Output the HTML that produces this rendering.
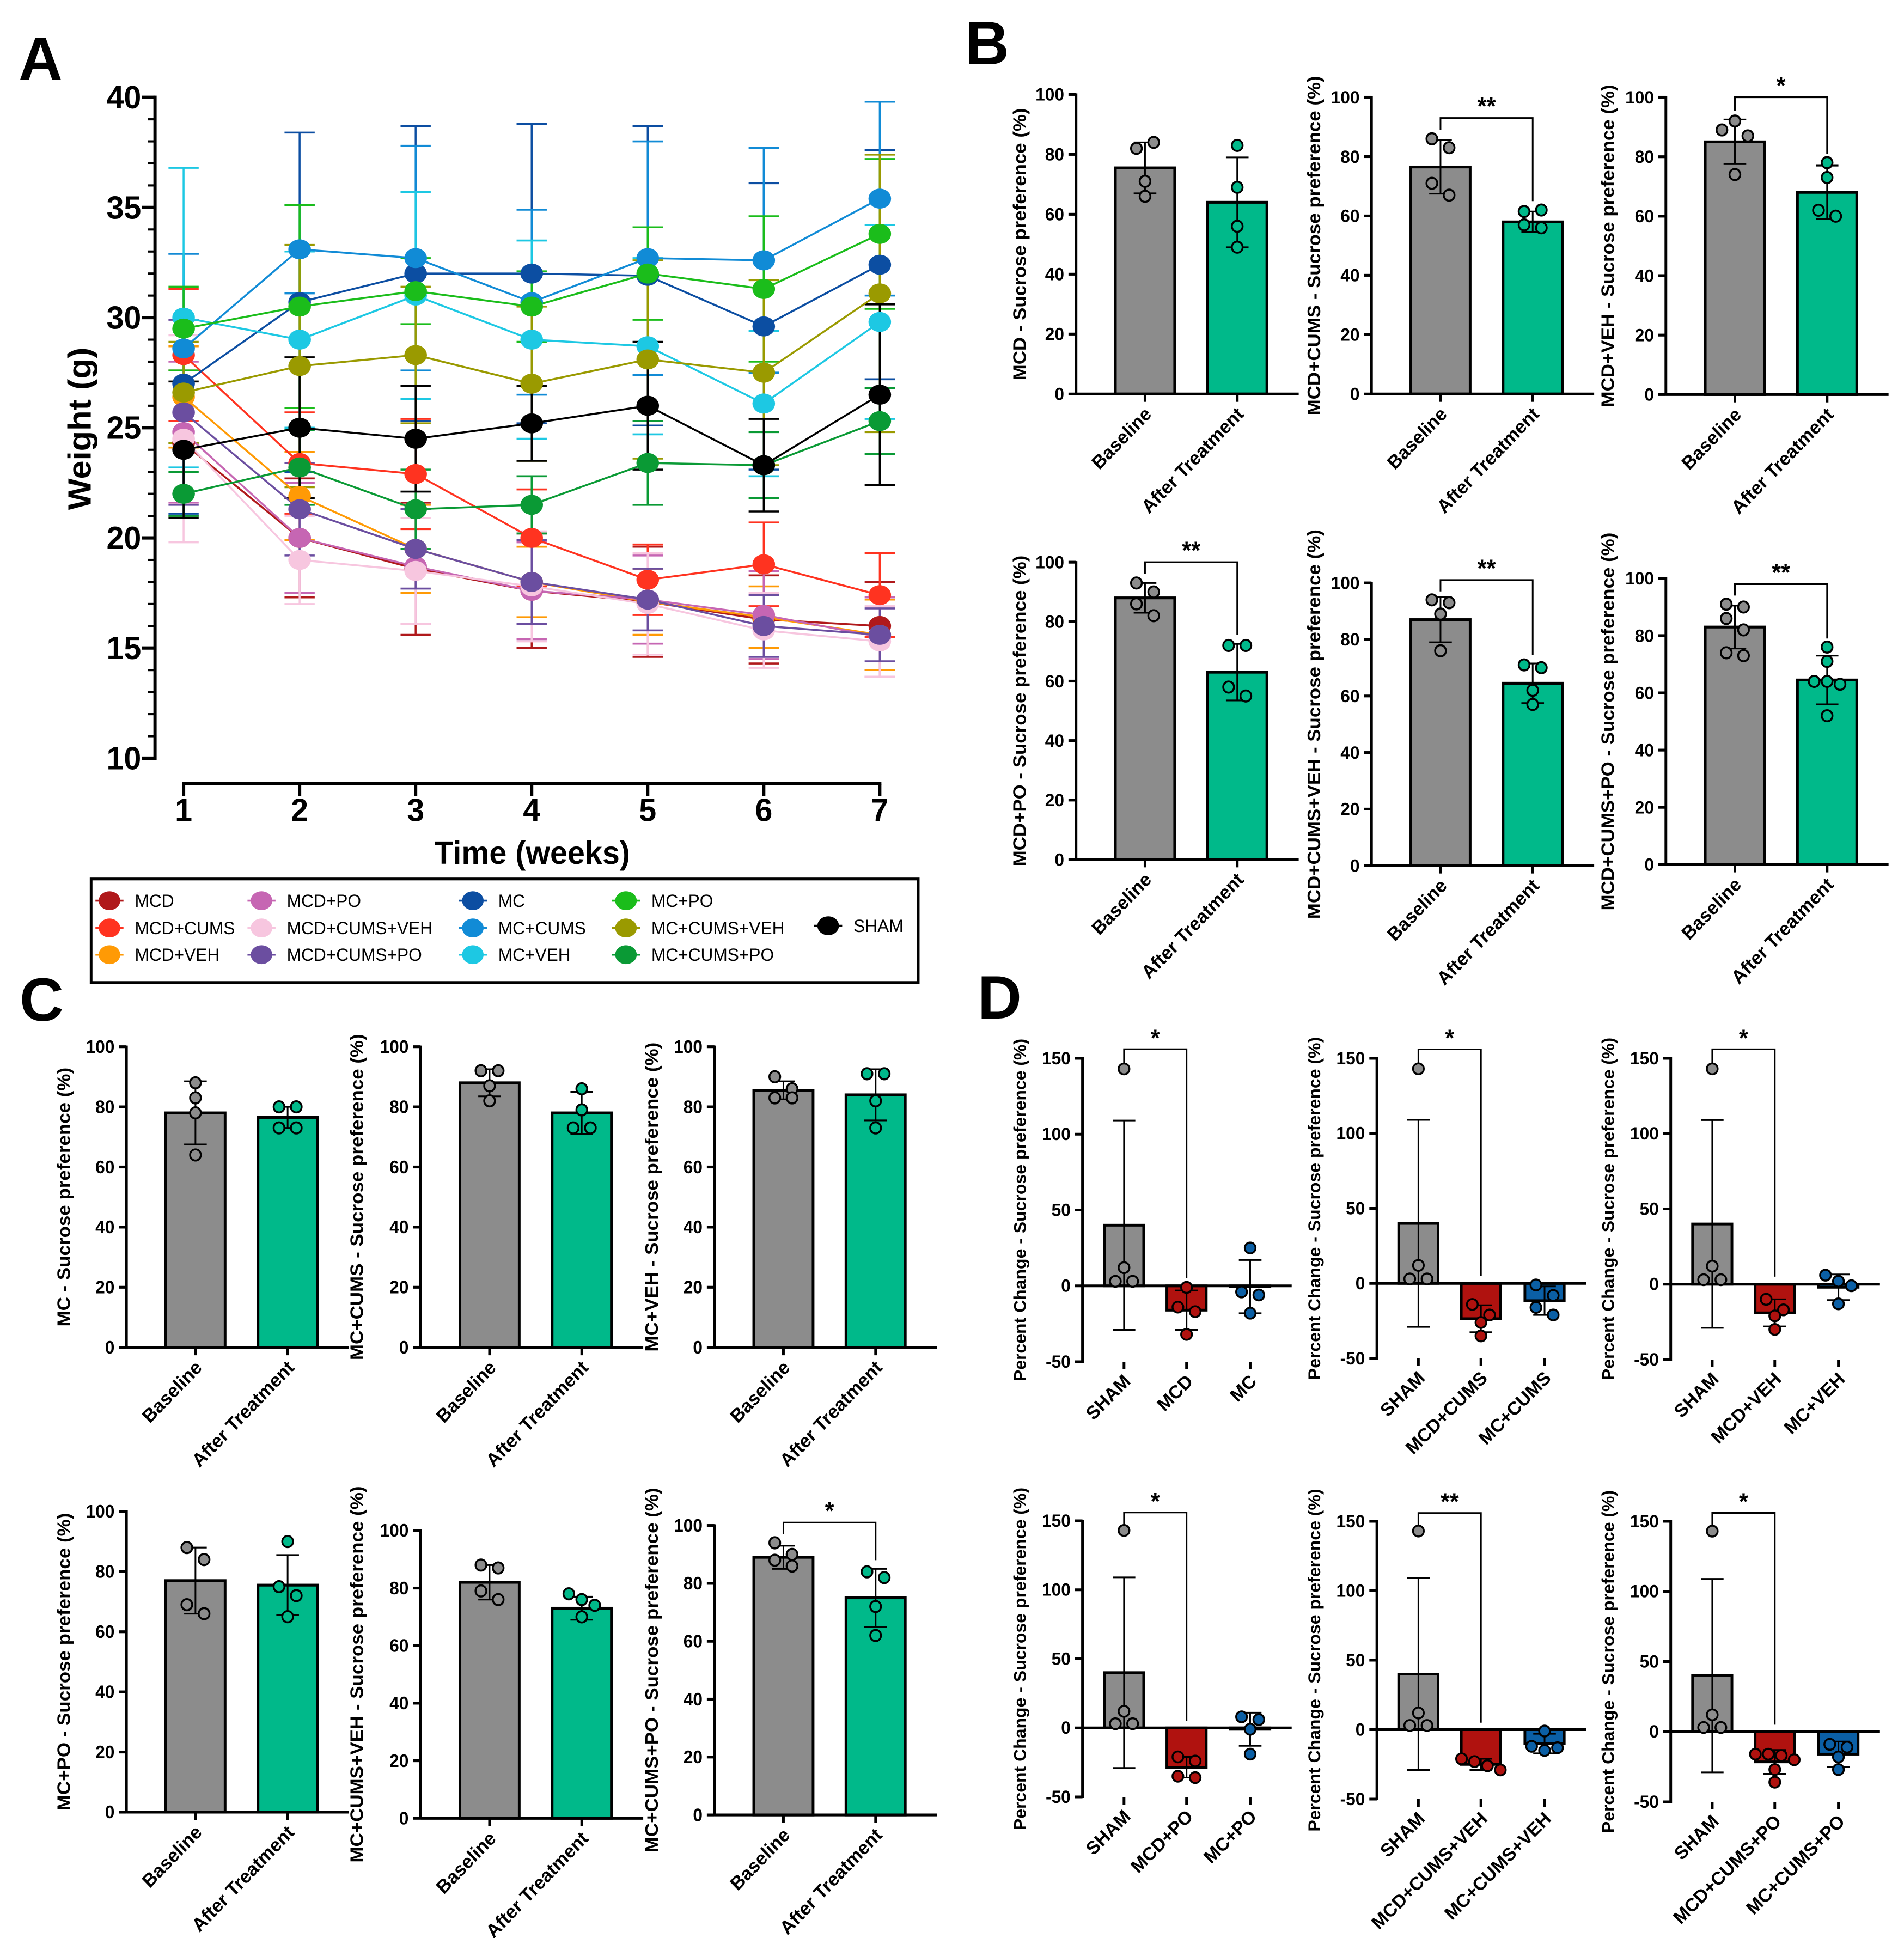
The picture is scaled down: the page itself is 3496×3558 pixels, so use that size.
<!DOCTYPE html>
<html><head><meta charset="utf-8"><title>Weight and sucrose preference figure</title>
<style>
html,body{margin:0;padding:0;background:#fff;}
svg{display:block;font-family:"Liberation Sans",Arial,sans-serif;}
</style></head>
<body>
<svg id="fig" width="3496" height="3558" viewBox="0 0 3496 3558"></svg>
<script>
// ---------- Panel A data ----------
const weeks = [1,2,3,4,5,6,7];
const groupNames = ["MCD","MCD+CUMS","MCD+VEH","MCD+PO","MCD+CUMS+VEH","MCD+CUMS+PO","MC","MC+CUMS","MC+VEH","MC+PO","MC+CUMS+VEH","MC+CUMS+PO","SHAM"];
const wMCD = [24.3,20.0,18.6,17.6,17.1,16.3,16.0];
const sdMCD = [3.3,2.7,3.0,2.6,2.5,2.0,2.0];
const wMCDCUMS = [28.3,23.4,22.9,20.0,18.1,18.8,17.4];
const sdMCDCUMS = [3.0,2.3,2.5,2.2,1.6,1.9,1.9];
const wMCDVEH = [26.4,21.9,19.5,18.0,17.1,16.4,15.6];
const sdMCDVEH = [2.3,2.0,2.0,1.6,1.5,1.4,1.6];
const wMCDPO = [24.8,20.0,18.7,17.6,17.2,16.5,15.5];
const sdMCDPO = [3.2,2.5,2.6,2.2,2.0,2.0,1.8];
const wMCDCUMSVEH = [24.5,19.0,18.5,17.8,17.0,15.8,15.3];
const sdMCDCUMSVEH = [4.7,2.0,2.4,2.5,2.3,1.7,1.6];
const wMCDCUMSPO = [25.7,21.3,19.5,18.0,17.2,16.0,15.6];
const sdMCDCUMSPO = [4.2,2.1,1.8,1.9,1.4,1.4,1.2];
const wMC = [27.0,30.7,32.0,32.0,31.9,29.6,32.4];
const sdMC = [5.9,7.7,6.7,6.8,6.8,6.5,5.2];
const wMCCUMS = [28.6,33.1,32.7,30.7,32.7,32.6,35.4];
const sdMCCUMS = [4.3,2.0,5.1,4.2,5.3,5.1,4.4];
const wMCVEH = [30.0,29.0,31.0,29.0,28.7,26.1,29.8];
const sdMCVEH = [6.8,4.0,4.7,4.5,4.0,3.3,4.4];
const wMCPO = [29.5,30.5,31.2,30.5,32.0,31.3,33.8];
const sdMCPO = [1.9,4.6,1.5,1.6,2.1,3.3,3.4];
const wMCCUMSVEH = [26.6,27.8,28.3,27.0,28.1,27.5,31.1];
const sdMCCUMSVEH = [2.3,5.5,3.1,3.5,4.5,4.2,6.3];
const wMCCUMSPO = [22.0,23.2,21.3,21.5,23.4,23.3,25.3];
const sdMCCUMSPO = [1.0,1.7,1.8,1.3,1.9,1.5,1.5];
const wSHAM = [24.0,25.0,24.5,25.2,26.0,23.3,26.5];
const sdSHAM = [3.1,3.2,2.4,1.7,2.9,2.1,4.1];
const yTicksA = [10,15,20,25,30,35,40];

// ---------- Panels B/C data ----------
const bcTitles = ["MCD","MCD+CUMS","MCD+VEH","MCD+PO","MCD+CUMS+VEH","MCD+CUMS+PO","MC","MC+CUMS","MC+VEH","MC+PO","MC+CUMS+VEH","MC+CUMS+PO"];
const bcCats = ["Baseline","After Treatment"];
const baseMean = [75.5,76.5,85,88,87,83, 78,88,85.5,77,82,89];
const baseSD = [8.5,9,7.5,5,8,7.5, 10.5,4.5,3,11,6,4];
const afterMean = [64,58,68,63,64.5,64.5, 76.5,78,84,75.5,73,75];
const afterSD = [15,3.5,9,9.5,7,8.5, 3.5,7,8.5,10,4,10];
const basePts = [[82,84,71,66],[86,83,71,67],[89,92,87,74],[93,90,86,82],[94,89,93,76],[91,90,86,82,74,73],
                 [88,83,78,64],[92,92,87,82],[90,86,83,83],[88,84,69,66],[88,87,79,76],[94,90,88,86]];
const afterPts = [[83,69,56,49],[61.5,62,57,56],[78,73,62,60],[72,72,58,55],[71,70,62,57],[76,71,64,64,63,52],
                  [80,80,73,73],[86,79,73,73],[91,91,82,73],[90,75,72,65],[78,76,74,70],[84,82,72,62]];
const bcSig = ["","**","*","**","**","**", "","","","","","*"];
const bcSigLevel = [0,93,100,100,101,98, 0,0,0,0,0,101];
const bcTicks = [0,20,40,60,80,100];

// ---------- Panel D data ----------
const dCats = [["SHAM","MCD","MC"],["SHAM","MCD+CUMS","MC+CUMS"],["SHAM","MCD+VEH","MC+VEH"],["SHAM","MCD+PO","MC+PO"],["SHAM","MCD+CUMS+VEH","MC+CUMS+VEH"],["SHAM","MCD+CUMS+PO","MC+CUMS+PO"]];
const shamMean = 40;
const shamSD = 69;
const shamPts = [143,12,3,3];
const mcdMean = [-16,-23.5,-19,-28.5,-25,-21.5];
const mcdSD = [13,9,9,7.5,4,8.5];
const mcdPts = [[-1,-14,-17,-32],[-14,-21,-26,-35],[-10,-17,-21,-30],[-21,-24,-35,-36],[-21,-23,-26,-29],[-16,-16,-17,-20,-27,-36]];
const mcMean = [-0.5,-11.5,-2,-1,-10,-16];
const mcSD = [17.5,9.5,8.5,12,7,9];
const mcPts = [[25,-4,-6,-18],[-1,-8,-16,-21],[6,2,-1,-13],[8,6,-1,-19],[-1,-12,-15,-13],[-9,-11,-18,-27]];
const dSig = ["*","*","*","*","**","*"];
const dTicks = [-50,0,50,100,150];

// ---------- helpers ----------
const NS = 'http://www.w3.org/2000/svg';
const svg = document.getElementById('fig');
function mk(tag, attrs, parent){
  const e = document.createElementNS(NS, tag);
  for (const k in attrs) e.setAttribute(k, attrs[k]);
  (parent || svg).appendChild(e);
  return e;
}
function txt(str, attrs, parent){
  const e = mk('text', attrs, parent);
  e.textContent = str;
  return e;
}
function slug(s){ return s.toLowerCase().replace(/\+/g,'-').replace(/[^a-z0-9-]/g,''); }

// ---------- Panel groups ----------
const gA = mk('g', {transform:'scale(0.99,1.022)'});


const gB = mk('g', {transform:'translate(1750,0) scale(0.99,1.026) translate(-1750,0)'});


const gC = mk('g', {transform:'translate(0,1750) scale(0.99,1.028) translate(0,-1750)'});


const gD = mk('g', {transform:'translate(1750,1800) scale(0.99,1) translate(-1750,-1800)'});



// ---------- Panel letters ----------
[["A",34,147],["B",1772,118],["C",36,1874],["D",1795,1870]].forEach(p=>{
  const t = txt(p[0], {x:p[1], y:p[2], 'font-size':112, 'font-weight':'bold', fill:'#000'});
  
  
});

// ---------- Panel A ----------
(function(){
  const g = mk('g', {}, gA);
  
  
  const x0 = 340.5, x1 = 1631.7, yTop = 174.8, yBot = 1362, axX = 287.5, axY = 1408;
  const xA = w => x0 + (w - 1) * (x1 - x0) / 6;
  const yA = v => yBot + (v - 10) * (yTop - yBot) / 30;
  const colors = ["#b0191b","#ff3320","#ff9a05","#c666b3","#f7c6df","#6b4ea0","#0c4ea2","#118bd6","#1dc8e3","#1bbd1b","#9a9a00","#0a9a35","#000000"];
  const means = [wMCD,wMCDCUMS,wMCDVEH,wMCDPO,wMCDCUMSVEH,wMCDCUMSPO,wMC,wMCCUMS,wMCVEH,wMCPO,wMCCUMSVEH,wMCCUMSPO,wSHAM];
  const sds = [sdMCD,sdMCDCUMS,sdMCDVEH,sdMCDPO,sdMCDCUMSVEH,sdMCDCUMSPO,sdMC,sdMCCUMS,sdMCVEH,sdMCPO,sdMCCUMSVEH,sdMCCUMSPO,sdSHAM];
  const ya = mk('line', {x1:axX, y1:yTop-3, x2:axX, y2:yBot+3, stroke:'#000','stroke-width':6}, g);
  
  
  for (let v = 10; v <= 40; v++) {
    const major = v % 5 === 0;
    const tk = mk('line', {x1:axX - (major ? 24 : 13), y1:yA(v), x2:axX, y2:yA(v), stroke:'#000','stroke-width':major?6:4}, g);
    
    
  }
  yTicksA.forEach(v=>{
    const t = txt(String(v), {x:262, y:yA(v)+20, 'text-anchor':'end','font-size':58,'font-weight':'bold'}, g);
    
    
  });
  const yt = txt('Weight (g)', {x:0, y:0, 'text-anchor':'middle','font-size':60,'font-weight':'bold', transform:'translate(168,770) rotate(-90)'}, g);
  
  
  const xa = mk('line', {x1:x0-3, y1:axY, x2:x1+3, y2:axY, stroke:'#000','stroke-width':6}, g);
  
  
  weeks.forEach(w=>{
    const tk = mk('line', {x1:xA(w), y1:axY, x2:xA(w), y2:axY+22, stroke:'#000','stroke-width':6}, g);
    
    
    const t = txt(String(w), {x:xA(w), y:1475, 'text-anchor':'middle','font-size':58,'font-weight':'bold'}, g);
    
    
  });
  const xt = txt('Time (weeks)', {x:987, y:1552, 'text-anchor':'middle','font-size':58,'font-weight':'bold'}, g);
  
  
  means.forEach((m,i)=>{
    m.forEach((v,j)=>{
      const x = xA(weeks[j]), hi = yA(v + sds[i][j]), lo = yA(v - sds[i][j]);
      const eb = mk('path', {d:`M${x},${hi}V${lo}M${x-28},${hi}H${x+28}M${x-28},${lo}H${x+28}`, stroke:colors[i], 'stroke-width':3.5, fill:'none'}, g);
      
      
    });
  });
  means.forEach((m,i)=>{
    const pts = m.map((v,j)=>xA(weeks[j])+','+yA(v)).join(' ');
    const pl = mk('polyline', {points:pts, stroke:colors[i], 'stroke-width':3.5, fill:'none'}, g);
    
    
  });
  means.forEach((m,i)=>{
    m.forEach((v,j)=>{
      const c = mk('ellipse', {cx:xA(weeks[j]), cy:yA(v), rx:21, ry:18, fill:colors[i]}, g);
      
      
    });
  });
  const lg = mk('g', {}, g);
  
  
  const box = mk('rect', {x:169, y:1579, width:1534, height:186, fill:'none', stroke:'#000','stroke-width':5}, lg);
  
  
  const colX = [203,485,877,1161], rowY = [1618,1667,1715];
  groupNames.forEach((n,i)=>{
    let mx, my;
    if (i < 12) { mx = colX[Math.floor(i/3)]; my = rowY[i%3]; } else { mx = 1536; my = 1663; }
    const e = mk('g', {}, lg);
    
    
    mk('line', {x1:mx-26, y1:my, x2:mx+26, y2:my, stroke:colors[i], 'stroke-width':3.5}, e);
    mk('ellipse', {cx:mx, cy:my, rx:20, ry:17, fill:colors[i]}, e);
    txt(n, {x:mx+47, y:my+11, 'font-size':32}, e);
  });
})();

// ---------- jitter ----------
function jitter(pts, scale){
  const offs = new Array(pts.length).fill(0);
  const used = new Array(pts.length).fill(false);
  for (let i = 0; i < pts.length; i++) {
    if (used[i]) continue;
    const cl = [i];
    used[i] = true;
    for (let j = i+1; j < pts.length; j++) {
      if (!used[j] && Math.abs(pts[j]-pts[i]) * scale < 22) { cl.push(j); used[j] = true; }
    }
    const n = cl.length;
    const sp = n >= 3 ? 24 : 16;
    cl.forEach((k,q)=>{ offs[k] = n === 1 ? 0 : (q - (n-1)/2) * sp * (n===2 ? 2 : 1); });
  }
  return offs;
}

// ---------- bar chart helper ----------
function barChart(o){
  const g = mk('g', {}, o.parent);
  
  
  const yS = v => o.y0 + (v - o.vMin) * (o.y1 - o.y0) / (o.vMax - o.vMin);
  const pxPerUnit = Math.abs(o.y1 - o.y0) / (o.vMax - o.vMin);
  const zeroY = yS(Math.max(o.vMin, 0));
  o.bars.forEach((b,i)=>{
    const top = yS(Math.max(b.mean,0)), bot = yS(Math.min(b.mean,0));
    const r = mk('rect', {x:b.cx - b.w/2, y:top, width:b.w, height:Math.max(bot-top,0.5), fill:b.color, stroke:'#000','stroke-width':5}, g);
    
    
  });
  const ya = mk('line', {x1:o.axX, y1:o.y1-2, x2:o.axX, y2:o.y0+2, stroke:'#000','stroke-width':5}, g);
  
  
  const xa = mk('line', {x1:o.axX, y1:zeroY, x2:o.xEnd, y2:zeroY, stroke:'#000','stroke-width':5}, g);
  
  
  o.ticks.forEach(v=>{
    const tk = mk('line', {x1:o.axX-14, y1:yS(v), x2:o.axX, y2:yS(v), stroke:'#000','stroke-width':5}, g);
    
    
    const t = txt(String(v), {x:o.axX-22, y:yS(v)+11, 'text-anchor':'end','font-size':32,'font-weight':'bold'}, g);
    
    
  });
  const midY = (o.y0 + o.y1) / 2;
  const yt = txt(o.ylabel, {x:0, y:0, 'text-anchor':'middle','font-size':o.yFont || 34,'font-weight':'bold', transform:`translate(${o.labelX},${midY}) rotate(-90)`}, g);
  
  
  const axisBottom = o.y0;
  o.bars.forEach((b,i)=>{
    const tk = mk('line', {x1:b.cx, y1:axisBottom, x2:b.cx, y2:axisBottom+14, stroke:'#000','stroke-width':5}, g);
    
    
    const t = txt(o.cats[i], {x:0, y:0, 'text-anchor':'end','font-size':34,'font-weight':'bold', transform:`translate(${b.cx+14},${axisBottom+38}) rotate(-45)`}, g);
    
    
  });
  o.bars.forEach((b,i)=>{
    const hi = yS(b.mean + b.sd), lo = yS(b.mean - b.sd), x = b.cx;
    const eb = mk('path', {d:`M${x},${hi}V${lo}M${x-21},${hi}H${x+21}M${x-21},${lo}H${x+21}`, stroke:'#000','stroke-width':3, fill:'none'}, g);
    
    
  });
  o.bars.forEach((b,i)=>{
    const offs = jitter(b.pts, pxPerUnit);
    b.pts.forEach((v,j)=>{
      const c = mk('circle', {cx:b.cx + offs[j], cy:yS(v), r:10, fill:b.ptColor, stroke:'#000','stroke-width':3.5}, g);
      
      
    });
  });
  if (o.sig) {
    const b0 = o.bars[0], b1 = o.bars[1];
    const yb = yS(o.sigLevel);
    const leftEnd = yS(o.sigLeftTo), rightEnd = yS(o.sigRightTo);
    const br = mk('path', {d:`M${b0.cx},${leftEnd}V${yb}H${b1.cx}V${rightEnd}`, stroke:'#000','stroke-width':3, fill:'none'}, g);
    
    
    const st = txt(o.sig, {x:(b0.cx+b1.cx)/2, y:yb-6, 'text-anchor':'middle','font-size':44,'font-weight':'bold'}, g);
    
    
  }
}

// ---------- Panels B and C ----------
const bcLayout = [
  {axX:1978, y0:705, y1:169, lx:1885},
  {axX:2526, y0:705, y1:174, lx:2431},
  {axX:3072, y0:706, y1:174, lx:2976},
  {axX:1978, y0:1538, y1:1006, lx:1885},
  {axX:2526, y0:1549, y1:1043, lx:2431},
  {axX:3072, y0:1547, y1:1035, lx:2976},
  {axX:234.5, y0:2454, y1:1917, lx:130},
  {axX:780, y0:2454, y1:1917, lx:673},
  {axX:1325, y0:2454, y1:1917, lx:1220},
  {axX:234.5, y0:3284, y1:2747, lx:130},
  {axX:780, y0:3295, y1:2781, lx:673},
  {axX:1325, y0:3289, y1:2772, lx:1220}
];
bcTitles.forEach((t,i)=>{
  const L = bcLayout[i];
  const hiB = Math.max(...basePts[i], baseMean[i]+baseSD[i]);
  barChart({
    parent: i < 6 ? gB : gC,
    name:'sucrose-chart-' + slug(t), axX:L.axX, y0:L.y0, y1:L.y1, vMin:0, vMax:100, ticks:bcTicks,
    xEnd:L.axX+413, labelX:L.lx, ylabel:t + ' - Sucrose preference (%)', cats:bcCats,
    bars:[
      {cx:L.axX+128, w:110, mean:baseMean[i], sd:baseSD[i], pts:basePts[i], color:'#8c8c8c', ptColor:'#8c8c8c'},
      {cx:L.axX+299, w:110, mean:afterMean[i], sd:afterSD[i], pts:afterPts[i], color:'#00b98a', ptColor:'#00b98a'}
    ],
    sig:bcSig[i], sigLevel:bcSigLevel[i], sigLeftTo:Math.min(bcSigLevel[i]-4, hiB+3), sigRightTo:Math.max(afterMean[i]+afterSD[i], ...afterPts[i])+3
  });
});

// ---------- Panel D ----------
const dLayout = [
  {axX:1990, y0:2500, y1:1943, lx:1885},
  {axX:2536, y0:2494, y1:1943, lx:2431},
  {axX:3081, y0:2496, y1:1943, lx:2976},
  {axX:1990, y0:3299, y1:2792, lx:1885},
  {axX:2536, y0:3303, y1:2793, lx:2431},
  {axX:3081, y0:3308, y1:2793, lx:2976}
];
dCats.forEach((cats,i)=>{
  const L = dLayout[i];
  barChart({
    parent: gD,
    name:'percent-change-chart-' + slug(cats[1]), axX:L.axX, y0:L.y0, y1:L.y1, vMin:-50, vMax:150, ticks:dTicks,
    xEnd:L.axX+388, labelX:L.lx, ylabel:'Percent Change - Sucrose preference (%)', cats:cats, yFont:32,
    bars:[
      {cx:L.axX+77, w:73, mean:shamMean, sd:shamSD, pts:shamPts, color:'#8c8c8c', ptColor:'#8c8c8c'},
      {cx:L.axX+193, w:73, mean:mcdMean[i], sd:mcdSD[i], pts:mcdPts[i], color:'#b0120f', ptColor:'#b0120f'},
      {cx:L.axX+311, w:73, mean:mcMean[i], sd:mcSD[i], pts:mcPts[i], color:'#0b5fa5', ptColor:'#0b5fa5'}
    ],
    sig:dSig[i], sigLevel:156, sigLeftTo:147, sigRightTo:5
  });
});
</script>
</body></html>
